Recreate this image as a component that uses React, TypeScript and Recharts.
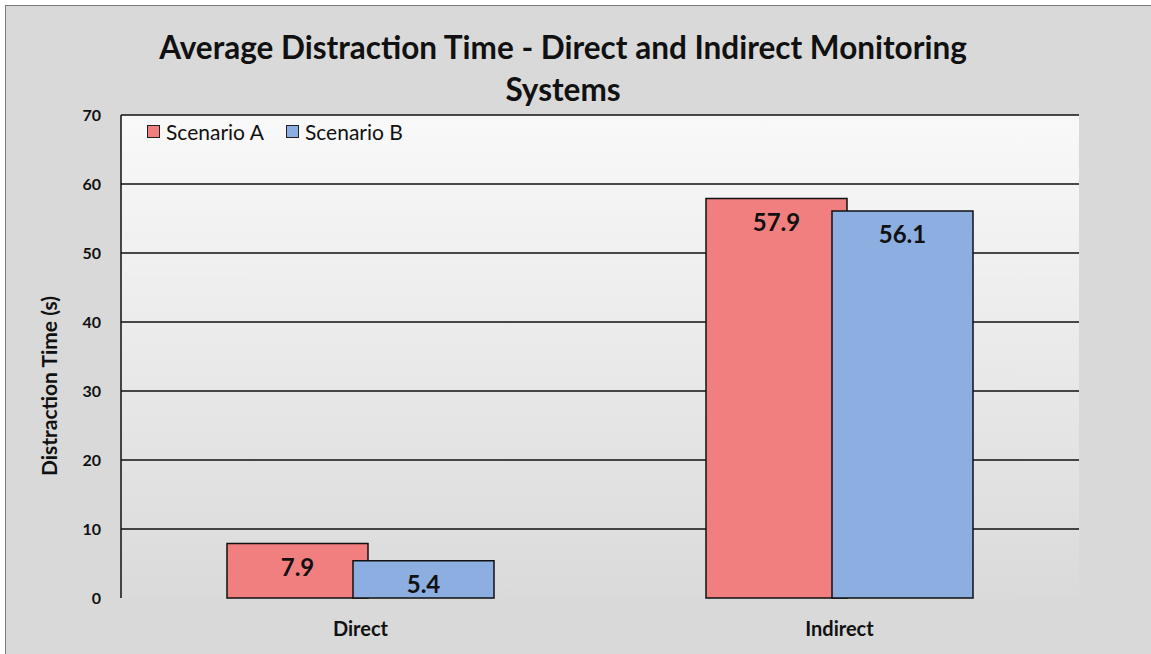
import React from "react";
import {
  BarChart,
  Bar,
  XAxis,
  YAxis,
  CartesianGrid,
  LabelList,
} from "recharts";

const categories = ["Direct", "Indirect"];
const scenarioA = [7.9, 57.9];
const scenarioB = [5.4, 56.1];
const yTicks = [0, 10, 20, 30, 40, 50, 60, 70];
const gridValues = [10, 20, 30, 40, 50, 60, 70];
const seriesNames = ["Scenario A", "Scenario B"];

const FONT = "Lato, 'Open Sans', sans-serif";
const COLOR_A = "#f27f7f";
const COLOR_B = "#8daee1";

const data = categories.map((name, i) => ({
  name,
  a: scenarioA[i],
  b: scenarioB[i],
}));

const LegendBox = () => (
  <div
    style={{
      position: "absolute",
      left: 147,
      top: 119,
      display: "flex",
      gap: 22,
      fontFamily: FONT,
      fontSize: 21,
      color: "#111",
    }}
  >
    {[
      { label: seriesNames[0], color: COLOR_A },
      { label: seriesNames[1], color: COLOR_B },
    ].map((it) => (
      <div key={it.label} style={{ display: "flex", alignItems: "center", gap: 6 }}>
        <span
          style={{
            width: 11,
            height: 11,
            background: it.color,
            border: "1.5px solid #222",
            display: "inline-block",
          }}
        />
        <span>{it.label}</span>
      </div>
    ))}
  </div>
);

const App: React.FC = () => {
  return (
    <div
      style={{
        position: "fixed",
        left: 0,
        top: 0,
        width: 1200,
        height: 700,
        overflow: "hidden",
        background: "#fff",
      }}
    >
      <style>{"html,body{margin:0;background:#d9d9d9;}"}</style>
      <div
        style={{
          position: "absolute",
          left: 5,
          top: 5,
          width: 1220,
          height: 720,
          border: "1.5px solid #7a7a7a",
          background: "#d9d9d9",
        }}
      />
      <div
        style={{
          position: "absolute",
          left: 0,
          width: 1126,
          top: 26,
          textAlign: "center",
          fontFamily: FONT,
          fontWeight: 700,
          fontSize: 31.5,
          lineHeight: "42px",
          color: "#111",
        }}
      >
        Average Distraction Time - Direct and Indirect Monitoring
        <br />
        Systems
      </div>
      <div
        style={{
          position: "absolute",
          left: 48,
          top: 386,
          transform: "translate(-50%, -50%) rotate(-90deg)",
          whiteSpace: "nowrap",
          fontFamily: FONT,
          fontWeight: 700,
          fontSize: 21,
          color: "#111",
        }}
      >
        Distraction Time (s)
      </div>
      <div style={{ position: "absolute", left: 0, top: 0 }}>
        <BarChart
          width={1151}
          height={654}
          data={data}
          margin={{ top: 115, right: 72, left: 21, bottom: 16 }}
          barSize={141}
          barGap={-15}
        >
          <defs>
            <linearGradient id="plotBg" x1="0" y1="0" x2="0" y2="1">
              <stop offset="0%" stopColor="#f9f9f9" />
              <stop offset="100%" stopColor="#dadada" />
            </linearGradient>
          </defs>
          <CartesianGrid
            vertical={false}
            horizontalValues={gridValues}
            stroke="#111"
            strokeWidth={1.5}
            fill="url(#plotBg)"
            fillOpacity={1}
          />
          <XAxis
            dataKey="name"
            axisLine={false}
            tickLine={false}
            height={40}
            tickMargin={18}
            tick={{ fontFamily: FONT, fontWeight: 700, fontSize: 20, fill: "#111" }}
          />
          <YAxis
            domain={[0, 70]}
            ticks={yTicks}
            width={100}
            axisLine={{ stroke: "#111", strokeWidth: 1.5 }}
            tickLine={false}
            tickMargin={14}
            tick={{ fontFamily: FONT, fontWeight: 700, fontSize: 16, fill: "#111" }}
          />
          <YAxis
            yAxisId="right"
            orientation="right"
            domain={[0, 70]}
            width={0}
            tick={false}
            tickLine={false}
            axisLine={{ stroke: "#111", strokeWidth: 1.5 }}
          />
          <Bar dataKey="a" name={seriesNames[0]} fill={COLOR_A} stroke="#111" strokeWidth={1.5} isAnimationActive={false}>
            <LabelList
              dataKey="a"
              position="insideTop"
              offset={15}
              style={{ fontFamily: FONT, fontWeight: 700, fontSize: 24, fill: "#111" }}
            />
          </Bar>
          <Bar dataKey="b" name={seriesNames[1]} fill={COLOR_B} stroke="#111" strokeWidth={1.5} isAnimationActive={false}>
            <LabelList
              dataKey="b"
              position="insideTop"
              offset={15}
              style={{ fontFamily: FONT, fontWeight: 700, fontSize: 24, fill: "#111" }}
            />
          </Bar>
        </BarChart>
      </div>
      <LegendBox />
    </div>
  );
};

export default App;
